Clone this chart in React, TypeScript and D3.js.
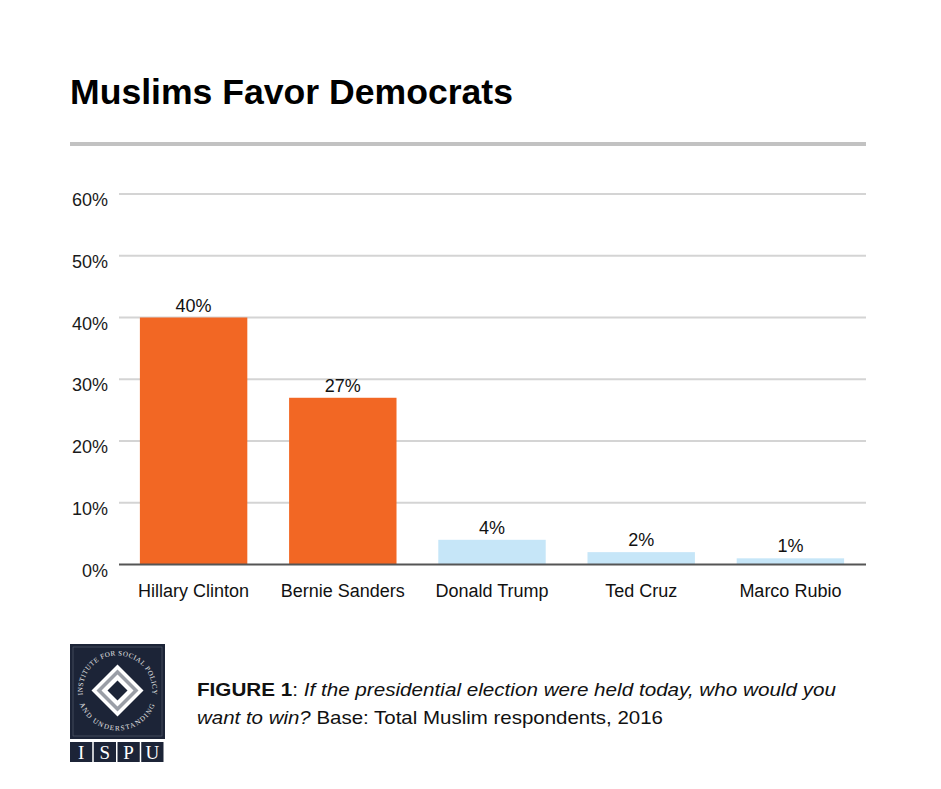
import React from "react";
import * as d3 from "d3";

const categories = ["Hillary Clinton", "Bernie Sanders", "Donald Trump", "Ted Cruz", "Marco Rubio"];
const values = [40, 27, 4, 2, 1];
const party = ["D", "D", "R", "R", "R"];
const yTicks = [0, 10, 20, 30, 40, 50, 60];
const title = "Muslims Favor Democrats";
const captionBold = "FIGURE 1";
const captionItalic1 = "If the presidential election were held today, who would you";
const captionItalic2 = "want to win?";
const captionRest = " Base: Total Muslim respondents, 2016";
const logoLetters = ["I", "S", "P", "U"];
const logoTopText = "INSTITUTE FOR SOCIAL POLICY";
const logoBottomText = "AND UNDERSTANDING";

const W = 941;
const H = 789;
const FONT = "'Liberation Sans', Arial, sans-serif";

export default function App() {
  const x = d3.scaleBand<string>().domain(categories).range([119, 865]).paddingInner(0.28).paddingOuter(0.14);
  const y = d3.scaleLinear().domain([0, 60]).range([564.5, 194]);
  const color = (p: string) => (p === "D" ? "#F26724" : "#C6E6F8");

  // logo
  const lx = 70, ly = 644, lw = 95, lh = 95;
  const cx = lx + lw / 2, cy = ly + lh / 2 - 1;
  const diamond = (r: number) => `M${cx},${cy - r}L${cx + r},${cy}L${cx},${cy + r}L${cx - r},${cy}Z`;
  const pt = (r: number, deg: number) => [cx + r * Math.cos((deg * Math.PI) / 180), cy - r * Math.sin((deg * Math.PI) / 180)];
  const R1 = 35;
  const [t0x, t0y] = pt(R1, 205);
  const [t1x, t1y] = pt(R1, -25);
  const topArc = `M${t0x},${t0y} A${R1},${R1} 0 1 1 ${t1x},${t1y}`;
  const R2 = 40;
  const [b0x, b0y] = pt(R2, 200);
  const [b1x, b1y] = pt(R2, -20);
  const botArc = `M${b0x},${b0y} A${R2},${R2} 0 0 0 ${b1x},${b1y}`;
  const boxW = 23.75;

  return (
    <svg width={W} height={H} style={{ position: "absolute", left: 0, top: 0, background: "#fff" }}>
      <rect width={W} height={H} fill="#fff" />
      <text x={70} y={104} fontFamily={FONT} fontWeight="bold" fontSize={35} fill="#000" textLength={443} lengthAdjust="spacingAndGlyphs">
        {title}
      </text>
      <rect x={70} y={142} width={796} height={4} fill="#c2c2c2" />

      {yTicks.map((t) => (
        <g key={t}>
          {t > 0 && <line x1={119} x2={866} y1={y(t)} y2={y(t)} stroke="#d4d4d4" strokeWidth={2} />}
          <text x={108} y={y(t) + 12} textAnchor="end" fontFamily={FONT} fontSize={18} fill="#1a1a1a">
            {t}%
          </text>
        </g>
      ))}

      {categories.map((c, i) => (
        <g key={c}>
          <rect x={x(c)} y={y(values[i])} width={x.bandwidth()} height={y(0) - y(values[i])} fill={color(party[i])} />
          <text x={(x(c) as number) + x.bandwidth() / 2} y={y(values[i]) - 6} textAnchor="middle" fontFamily={FONT} fontSize={18} fill="#111">
            {values[i]}%
          </text>
          <text x={(x(c) as number) + x.bandwidth() / 2} y={597} textAnchor="middle" fontFamily={FONT} fontSize={18} fill="#111">
            {c}
          </text>
        </g>
      ))}
      <line x1={119} x2={866} y1={y(0)} y2={y(0)} stroke="#555" strokeWidth={2} />

      {/* logo */}
      <rect x={lx} y={ly} width={lw} height={lh} fill="#1c2437" />
      <rect x={lx + 3} y={ly + 3} width={lw - 6} height={lh - 6} fill="none" stroke="#5a6272" strokeWidth={0.6} />
      <path d={diamond(26)} fill="#ffffff" />
      <path d={diamond(21)} fill="#9a9ea6" />
      <path d={diamond(16)} fill="#ffffff" />
      <path d={diamond(10)} fill="#1c2437" />
      <defs>
        <path id="logoTop" d={topArc} />
        <path id="logoBot" d={botArc} />
      </defs>
      <text fontFamily="'Liberation Serif', serif" fontSize={7} fill="#e8e8e8" letterSpacing={0.5}>
        <textPath href="#logoTop" startOffset="50%" textAnchor="middle">{logoTopText}</textPath>
      </text>
      <text fontFamily="'Liberation Serif', serif" fontSize={7} fill="#e8e8e8" letterSpacing={1.3}>
        <textPath href="#logoBot" startOffset="50%" textAnchor="middle">{logoBottomText}</textPath>
      </text>
      {logoLetters.map((l, i) => (
        <g key={l}>
          <rect x={lx + i * boxW} y={742} width={boxW - 1.5} height={20} fill="#1c2437" />
          <text x={lx + i * boxW + (boxW - 1.5) / 2} y={759} textAnchor="middle" fontFamily="'Liberation Serif', serif" fontSize={19} fill="#fff">
            {l}
          </text>
        </g>
      ))}

      {/* caption */}
      <text x={197} y={696} fontFamily={FONT} fontSize={19} fill="#111" textLength={639} lengthAdjust="spacingAndGlyphs">
        <tspan fontWeight="bold">{captionBold}</tspan>
        <tspan>: </tspan>
        <tspan fontStyle="italic">{captionItalic1}</tspan>
      </text>
      <text x={197} y={724} fontFamily={FONT} fontSize={19} fill="#111" textLength={466} lengthAdjust="spacingAndGlyphs">
        <tspan fontStyle="italic">{captionItalic2}</tspan>
        <tspan>{captionRest}</tspan>
      </text>
    </svg>
  );
}
